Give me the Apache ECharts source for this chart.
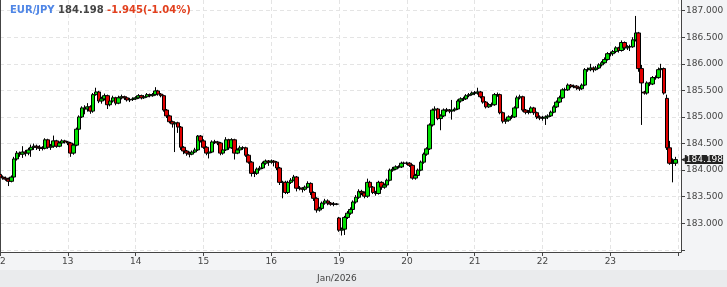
<!DOCTYPE html>
<html>
<head>
<meta charset="utf-8">
<script src="https://cdn.jsdelivr.net/npm/echarts@6/dist/echarts.min.js"></script>
<style>
html,body{margin:0;padding:0;background:#f3f4f6;}
#chart{width:727px;height:287px;}
</style>
</head>
<body>
<div id="chart"></div>
<script>
// Tick labels (one per trading day)
const dayLabels = ['12','13','14','15','16','19','20','21','22','23'];
const monthLabel = 'Jan/2026';
const symbol = 'EUR/JPY';
const lastPrice = 184.198;
const change = '-1.945(-1.04%)';
const yTicks = [183, 183.5, 184, 184.5, 185, 185.5, 186, 186.5, 187];

// Hourly candles per day: [open, close, low, high]
const jan12 = [
[183.92,183.87,183.84,183.95],[183.87,183.85,183.82,183.90],[183.85,183.83,183.80,183.88],[183.83,183.79,183.70,183.86],
[183.79,183.87,183.77,183.90],[183.87,184.21,183.85,184.25],[184.21,184.32,184.18,184.36],[184.32,184.30,184.25,184.35],
[184.30,184.34,184.23,184.45],[184.34,184.32,184.26,184.38],[184.32,184.38,184.28,184.42],[184.38,184.43,184.25,184.48],
[184.43,184.45,184.38,184.50],[184.45,184.43,184.38,184.48],[184.43,184.41,184.36,184.47],[184.41,184.41,184.37,184.45],
[184.41,184.57,184.39,184.60],[184.57,184.43,184.40,184.59],[184.43,184.45,184.38,184.49],[184.45,184.55,184.42,184.65],
[184.55,184.45,184.42,184.57],[184.45,184.51,184.43,184.54],[184.51,184.55,184.49,184.58],[184.55,184.53,184.50,184.57]
];
const jan13 = [
[184.53,184.51,184.47,184.55],[184.51,184.32,184.25,184.53],[184.32,184.47,184.29,184.50],[184.47,184.77,184.45,184.80],
[184.77,185.00,184.74,185.03],[185.00,185.17,184.98,185.20],[185.17,185.15,185.05,185.22],[185.15,185.19,185.10,185.26],
[185.19,185.11,185.06,185.22],[185.11,185.42,185.08,185.45],[185.42,185.47,185.40,185.55],[185.47,185.30,185.26,185.49],
[185.30,185.34,185.25,185.38],[185.34,185.40,185.31,185.44],[185.40,185.23,185.15,185.42],[185.23,185.30,185.20,185.33],
[185.30,185.36,185.27,185.40],[185.36,185.26,185.22,185.38],[185.26,185.36,185.24,185.40],[185.36,185.38,185.33,185.42],
[185.38,185.36,185.32,185.40],[185.36,185.32,185.29,185.38],[185.32,185.33,185.28,185.36],[185.33,185.34,185.30,185.37]
];
const jan14 = [
[185.34,185.36,185.32,185.39],[185.36,185.40,185.34,185.43],[185.40,185.36,185.33,185.42],[185.36,185.38,185.34,185.41],
[185.38,185.42,185.36,185.45],[185.42,185.40,185.37,185.44],[185.40,185.42,185.38,185.45],[185.42,185.49,185.40,185.56],
[185.49,185.43,185.40,185.51],[185.43,185.40,185.37,185.45],[185.40,185.13,185.10,185.42],[185.13,185.02,184.98,185.15],
[185.02,184.91,184.88,185.04],[184.91,184.87,184.80,184.93],[184.87,184.89,184.34,184.91],[184.89,184.81,184.70,184.91],
[184.81,184.43,184.38,184.83],[184.43,184.36,184.30,184.45],[184.36,184.32,184.27,184.38],[184.32,184.30,184.24,184.35],
[184.30,184.34,184.28,184.37],[184.34,184.38,184.32,184.42],[184.38,184.64,184.36,184.66],[184.64,184.55,184.52,184.66]
];
const jan15 = [
[184.55,184.43,184.40,184.58],[184.43,184.32,184.28,184.45],[184.32,184.34,184.22,184.37],[184.34,184.53,184.32,184.56],
[184.53,184.53,184.49,184.57],[184.53,184.51,184.47,184.55],[184.51,184.32,184.28,184.53],[184.32,184.38,184.29,184.41],
[184.38,184.57,184.36,184.62],[184.57,184.42,184.38,184.59],[184.42,184.57,184.40,184.60],[184.57,184.32,184.20,184.59],
[184.32,184.38,184.30,184.41],[184.38,184.42,184.35,184.46],[184.42,184.42,184.38,184.45],[184.42,184.28,184.25,184.44],
[184.28,184.15,184.12,184.30],[184.15,183.94,183.88,184.17],[183.94,183.94,183.87,183.98],[183.94,184.02,183.91,184.05],
[184.02,184.04,183.99,184.08],[184.04,184.13,184.02,184.16],[184.13,184.17,184.10,184.20],[184.17,184.15,184.08,184.19]
];
const jan16 = [
[184.15,184.17,184.12,184.20],[184.17,184.15,184.07,184.19],[184.15,184.04,184.00,184.17],[184.04,183.77,183.72,184.06],
[183.77,183.77,183.47,183.80],[183.77,183.58,183.55,183.80],[183.58,183.77,183.55,183.80],[183.77,183.81,183.74,183.85],
[183.81,183.87,183.79,183.91],[183.87,183.66,183.60,183.89],[183.66,183.66,183.62,183.70],[183.66,183.64,183.58,183.68],
[183.64,183.68,183.61,183.71],[183.68,183.75,183.66,183.79],[183.75,183.58,183.53,183.77],[183.58,183.47,183.42,183.60],
[183.47,183.25,183.20,183.49],[183.25,183.28,183.22,183.31],[183.28,183.38,183.26,183.41],[183.38,183.42,183.35,183.46],
[183.42,183.38,183.34,183.45],[183.38,183.36,183.33,183.40],[183.36,183.36,183.32,183.40],[183.36,183.36,183.34,183.38]
];
const jan19 = [
[183.10,182.87,182.84,183.12],[182.87,182.89,182.77,182.92],[182.89,183.11,182.78,183.14],[183.11,183.19,183.08,183.23],
[183.19,183.26,183.16,183.30],[183.26,183.40,183.22,183.43],[183.40,183.49,183.37,183.53],[183.49,183.60,183.46,183.64],
[183.60,183.57,183.53,183.63],[183.57,183.51,183.47,183.60],[183.51,183.77,183.48,183.84],[183.77,183.68,183.64,183.80],
[183.68,183.58,183.55,183.70],[183.58,183.56,183.52,183.61],[183.56,183.77,183.54,183.80],[183.77,183.68,183.63,183.79],
[183.68,183.72,183.65,183.75],[183.72,183.81,183.70,183.84],[183.81,184.00,183.79,184.03],[184.00,184.02,183.97,184.06],
[184.02,184.06,184.00,184.09],[184.06,184.06,184.03,184.09],[184.06,184.13,184.04,184.16],[184.13,184.13,184.10,184.16]
];
const jan20 = [
[184.13,184.13,184.10,184.16],[184.13,184.09,184.06,184.15],[184.09,183.85,183.82,184.11],[183.85,183.90,183.82,183.93],
[183.90,184.00,183.87,184.03],[184.00,184.15,183.98,184.18],[184.15,184.30,184.12,184.33],[184.30,184.40,184.27,184.43],
[184.40,184.85,184.38,184.88],[184.85,185.13,184.82,185.16],[185.13,185.15,185.05,185.20],[185.15,184.97,184.94,185.17],
[184.97,185.02,184.75,185.05],[185.02,185.13,185.00,185.16],[185.13,185.13,185.09,185.17],[185.13,185.11,185.07,185.15],
[185.11,185.13,184.95,185.32],[185.13,185.15,185.10,185.18],[185.15,185.30,185.13,185.33],[185.30,185.34,185.27,185.37],
[185.34,185.34,185.30,185.38],[185.34,185.40,185.32,185.43],[185.40,185.42,185.37,185.45],[185.42,185.45,185.40,185.48]
];
const jan21 = [
[185.45,185.45,185.41,185.49],[185.45,185.47,185.42,185.55],[185.47,185.38,185.35,185.49],[185.38,185.28,185.25,185.40],
[185.28,185.19,185.16,185.30],[185.19,185.23,185.17,185.26],[185.23,185.23,185.19,185.27],[185.23,185.42,185.21,185.45],
[185.42,185.42,185.38,185.46],[185.42,185.08,185.05,185.44],[185.08,184.92,184.88,185.10],[184.92,184.94,184.87,184.97],
[184.94,185.00,184.91,185.03],[185.00,185.00,184.96,185.04],[185.00,185.17,184.98,185.20],[185.17,185.36,185.15,185.40],
[185.36,185.38,185.33,185.42],[185.38,185.13,185.10,185.40],[185.13,185.09,185.05,185.15],[185.09,185.09,185.05,185.13],
[185.09,185.17,185.07,185.20],[185.17,185.08,185.04,185.19],[185.08,185.00,184.96,185.10],[185.00,184.98,184.94,185.03]
];
const jan22 = [
[184.98,184.98,184.93,185.02],[184.98,185.00,184.85,185.03],[185.00,185.02,184.96,185.05],[185.02,185.09,185.00,185.12],
[185.09,185.19,185.07,185.22],[185.19,185.28,185.17,185.31],[185.28,185.36,185.26,185.40],[185.36,185.51,185.34,185.54],
[185.51,185.51,185.47,185.55],[185.51,185.60,185.49,185.63],[185.60,185.57,185.54,185.62],[185.57,185.58,185.54,185.61],
[185.58,185.55,185.51,185.60],[185.55,185.53,185.49,185.57],[185.53,185.60,185.51,185.63],[185.60,185.89,185.58,185.92],
[185.89,185.89,185.85,185.93],[185.89,185.92,185.86,186.00],[185.92,185.89,185.84,185.95],[185.89,185.92,185.87,185.96],
[185.92,185.98,185.90,186.01],[185.98,186.02,185.95,186.05],[186.02,186.08,186.00,186.12],[186.08,186.19,186.06,186.22]
];
const jan23 = [
[186.19,186.19,186.14,186.23],[186.19,186.23,186.15,186.26],[186.23,186.30,186.20,186.33],[186.30,186.25,186.21,186.32],
[186.25,186.40,186.23,186.44],[186.40,186.30,186.26,186.42],[186.30,186.32,186.26,186.35],[186.32,186.32,186.24,186.36],
[186.32,186.45,186.30,186.50],[186.45,186.58,186.42,186.90],[186.58,185.91,185.85,186.60],[185.91,185.64,184.85,185.98],
[185.47,185.45,185.42,185.49],[185.45,185.64,185.42,185.67],[185.64,185.62,185.58,185.66],[185.62,185.74,185.60,185.77],
[185.74,185.74,185.70,185.78],[185.74,185.89,185.72,185.93],[185.89,185.91,185.87,186.00],[185.91,185.45,185.42,185.93],
[185.35,184.42,184.38,185.42],[184.42,184.13,184.10,184.55],[184.13,184.13,183.77,184.22],[184.13,184.198,184.08,184.25]
];

const days = [jan12, jan13, jan14, jan15, jan16, jan19, jan20, jan21, jan22, jan23];
const HOURS = 24;

// build categories (hourly) + two trailing slots for the axis end
const categories = [];
const candles = [];
days.forEach((d, di) => {
  d.forEach((row, h) => {
    categories.push(dayLabels[di] + ' ' + String(h).padStart(2, '0') + ':00');
    candles.push(row);
  });
});
categories.push('24 00:00');
categories.push('24 01:00');

const isDayStart = (idx) => idx % HOURS === 0;
const FONT = 'DejaVu Sans';

const chart = echarts.init(document.getElementById('chart'), null, {renderer: 'canvas'});
chart.setOption({
  animation: false,
  backgroundColor: '#f3f4f6',
  title: {
    left: 10, top: 5, padding: 0,
    text: '{a|' + symbol + '} {b|' + lastPrice.toFixed(3) + '} {c|' + change + '}',
    textStyle: {
      fontFamily: FONT, fontSize: 10, fontWeight: 'bold',
      rich: {
        a: {color: '#4f86e6', fontFamily: FONT, fontSize: 10, fontWeight: 'bold'},
        b: {color: '#444444', fontFamily: FONT, fontSize: 10, fontWeight: 'bold'},
        c: {color: '#e2401e', fontFamily: FONT, fontSize: 10, fontWeight: 'bold'}
      }
    }
  },
  graphic: [
    {type: 'rect', left: 0, top: 270, shape: {width: 727, height: 17}, style: {fill: '#eaebed'}, z: -10, silent: true},
    {type: 'text', left: 317, top: 274, style: {text: monthLabel, fill: '#444', font: '9px "DejaVu Sans"'}, silent: true}
  ],
  grid: {left: 0, right: 46, top: 0, bottom: 35, show: true, backgroundColor: '#ffffff', borderWidth: 0,
         containLabel: false, outerBoundsMode: 'none'},
  xAxis: {
    type: 'category',
    data: categories,
    boundaryGap: false,
    axisLine: {show: true, lineStyle: {color: '#444', width: 1}},
    axisTick: {show: true, interval: (i) => isDayStart(i), length: 4, lineStyle: {color: '#444'}},
    axisLabel: {
      interval: (i) => isDayStart(i),
      formatter: (v, i) => (dayLabels[i / HOURS] || ''),
      color: '#444', fontFamily: FONT, fontSize: 9, margin: 5
    },
    splitLine: {show: true, interval: (i) => isDayStart(i), lineStyle: {color: '#e4e4e4', type: [4, 3]}}
  },
  yAxis: [{
    type: 'value',
    position: 'right',
    min: 182.46, max: 187.2,
    splitNumber: 9, minInterval: 0.5, maxInterval: 0.5,
    axisLine: {show: true, lineStyle: {color: '#444', width: 1}},
    axisTick: {show: true, length: 4, lineStyle: {color: '#444'}},
    axisLabel: {
      formatter: (v) => yTicks.indexOf(Math.round(v * 1000) / 1000) >= 0 ? v.toFixed(3) : '',
      color: '#444', fontFamily: FONT, fontSize: 9, margin: 5,
      showMinLabel: false, showMaxLabel: false
    },
    splitLine: {show: true, showMinLine: false, showMaxLine: false, lineStyle: {color: '#e4e4e4', type: [4, 3]}}
  }, {
    type: 'value',
    position: 'left',
    min: 182.46, max: 187.2,
    axisLine: {show: true, onZero: false, lineStyle: {color: '#444', width: 1}},
    axisTick: {show: false}, axisLabel: {show: false}, splitLine: {show: false}
  }],
  series: [{
    type: 'candlestick',
    data: candles,
    yAxisIndex: 0,
    barWidth: 4,
    clip: true,
    itemStyle: {
      color: '#00e000', color0: '#e00000',
      borderColor: '#000', borderColor0: '#000', borderWidth: 1
    },
    markLine: {
      silent: true,
      symbol: ['none', 'none'],
      lineStyle: {color: 'rgba(0,0,0,0)', width: 0},
      label: {
        position: 'end', distance: 0,
        formatter: '{arr|◀}{box|' + lastPrice.toFixed(3) + '}',
        rich: {
          arr: {color: '#222', fontSize: 5, fontFamily: FONT, lineHeight: 10},
          box: {backgroundColor: '#222', color: '#fff', fontFamily: FONT, fontSize: 9, lineHeight: 10, padding: [0, 0, 0, 1]}
        }
      },
      data: [{yAxis: lastPrice}]
    }
  }]
});
</script>
</body>
</html>
